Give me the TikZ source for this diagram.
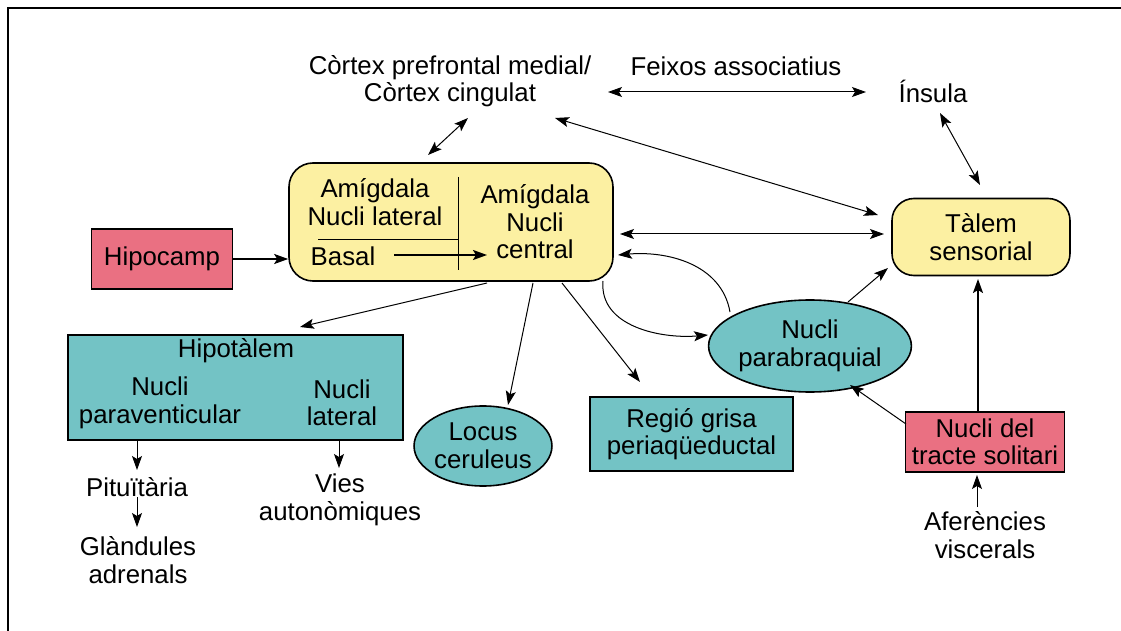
\documentclass[tikz,border=0pt]{standalone}
\usepackage{fontspec}
\setmainfont{Liberation Sans}
\usetikzlibrary{arrows.meta,shapes.geometric}

\definecolor{amigyellow}{RGB}{252,240,162}
\definecolor{hipored}{RGB}{234,112,130}
\definecolor{nucteal}{RGB}{115,195,197}

\tikzset{
  redbox/.style={draw,line width=0.8pt,fill=hipored,inner sep=0pt},
  tealbox/.style={draw,line width=0.8pt,fill=nucteal,inner sep=0pt},
  yellowbox/.style={draw,line width=0.8pt,fill=amigyellow,rounded corners=12pt,inner sep=0pt},
  tealoval/.style={draw,line width=0.8pt,fill=nucteal,ellipse,inner sep=0pt},
  thick arrow/.style={->,line width=1pt}
}

\begin{document}
\begin{tikzpicture}[x=0.5pt,y=-0.5pt,>={Stealth[length=7pt,width=5pt,inset=1.5pt]},line width=0.5pt,align=center,
    font=\fontsize{12.9}{13.75}\selectfont]
  \useasboundingbox (0,0) rectangle (1121,631);
  \draw[line width=1pt] (8,631) -- (8,8) -- (1121,8);

  % nodes
  \node (cortex) at (450,81) {Còrtex prefrontal medial/\\Còrtex cingulat};
  \node (feixos) at (736,66) {Feixos associatius};
  \node (insula) at (933,91) {Ínsula};
  \node[yellowbox,minimum width=162pt,minimum height=59pt] (amig) at (451,222) {};
  \node (lat) at (375,202) {Amígdala\\Nucli lateral};
  \node (basal) at (343,256) {Basal};
  \node (central) at (535,222) {Amígdala\\Nucli\\central};
  \node[redbox,minimum width=70.5pt,minimum height=30pt] (hipo) at (162,259) {Hipocamp};
  \node[yellowbox,rounded corners=11pt,minimum width=89pt,minimum height=38.5pt] (talem) at (981,237) {Tàlem\\sensorial};
  \node[tealoval,minimum width=100pt,minimum height=46pt] (parab) at (810,346) {Nucli\\parabraquial};
  \node[redbox,minimum width=79.5pt,minimum height=30pt] (nts) at (985,442) {Nucli del\\tracte solitari};
  \node (afer) at (985,535) {Aferències\\viscerals};
  \node[tealbox,minimum width=167.5pt,minimum height=52.5pt] (hipot) at (235.5,387.5) {};
  \node (hipottitle) at (236,351) {Hipotàlem};
  \node (pvn) at (160,403) {Nucli\\paraventicular};
  \node (latn) at (342,403) {Nucli\\lateral};
  \node (pitu) at (137,487) {Pituïtària};
  \node (glan) at (138,560) {Glàndules\\adrenals};
  \node (vies) at (340,500) {Vies\\autonòmiques};
  \node[tealoval,minimum width=55pt,minimum height=40pt] (locus) at (483,446) {Locus\\ceruleus};
  \node[tealbox,minimum width=101.5pt,minimum height=37pt] (regio) at (691.5,434) {Regió grisa\\periaqüeductal};

  % lines inside the amygdala
  \draw (318,240) -- (458,240) (458,177) -- (458,270);

  \path[<->]
    ([xshift=79pt,yshift=-5.5pt]cortex.center) edge ([xshift=-33.5pt,yshift=-0.5pt]insula.center)
    ([xshift=9pt,yshift=-18.5pt]cortex.center) edge ([xshift=-11.5pt,yshift=33.5pt]amig.center)
    ([xshift=52.5pt,yshift=-18.5pt]cortex.center) edge ([xshift=-51.5pt,yshift=11pt]talem.center)
    ([xshift=3.5pt,yshift=-11pt]insula.center) edge ([xshift=-0.5pt,yshift=26pt]talem.center)
    ([xshift=84.5pt,yshift=-6pt]amig.center) edge ([xshift=-48.5pt,yshift=1.5pt]talem.center);
  \path[->]
    ([xshift=76pt,yshift=-29.5pt]amig.center) edge[out=-95,in=185] ([xshift=-51pt,yshift=5.5pt]parab.center)
    ([xshift=-40pt,yshift=17pt]parab.center) edge[out=100,in=5] ([xshift=83.5pt,yshift=-16.5pt]amig.center)
    ([xshift=19pt,yshift=22pt]parab.center) edge ([xshift=-46.5pt,yshift=-15.5pt]talem.center)
    ([xshift=-39.5pt,yshift=9pt]nts.center) edge ([xshift=20pt,yshift=-19.5pt]parab.center)
    ([xshift=-4pt,yshift=14pt]afer.center) edge ([xshift=-4pt,yshift=-16.5pt]nts.center)
    ([xshift=18pt,yshift=-30.5pt]amig.center) edge ([xshift=32.25pt,yshift=30.25pt]hipot.center)
    ([xshift=41pt,yshift=-30.5pt]amig.center) edge ([xshift=12.5pt,yshift=20.5pt]locus.center)
    ([xshift=55.5pt,yshift=-30.5pt]amig.center) edge ([xshift=-25.75pt,yshift=26pt]regio.center)
    ([xshift=-49.25pt,yshift=-26.25pt]hipot.center) edge ([yshift=8.5pt]pitu.center)
    ([yshift=-5pt]pitu.center) edge ([xshift=-0.5pt,yshift=16.5pt]glan.center)
    ([xshift=51.75pt,yshift=-26.25pt]hipot.center) edge ([xshift=-0.5pt,yshift=16pt]vies.center);
  \path[thick arrow]
    (hipo.east) edge (hipo.east -| amig.west)
    ([xshift=25.5pt,yshift=0.5pt]basal.center) edge ([xshift=-24pt,yshift=-16.5pt]central.center)
    ([xshift=-3.5pt]nts.north) edge ([xshift=-1.5pt,yshift=-21pt]talem.center);
\end{tikzpicture}
\end{document}
